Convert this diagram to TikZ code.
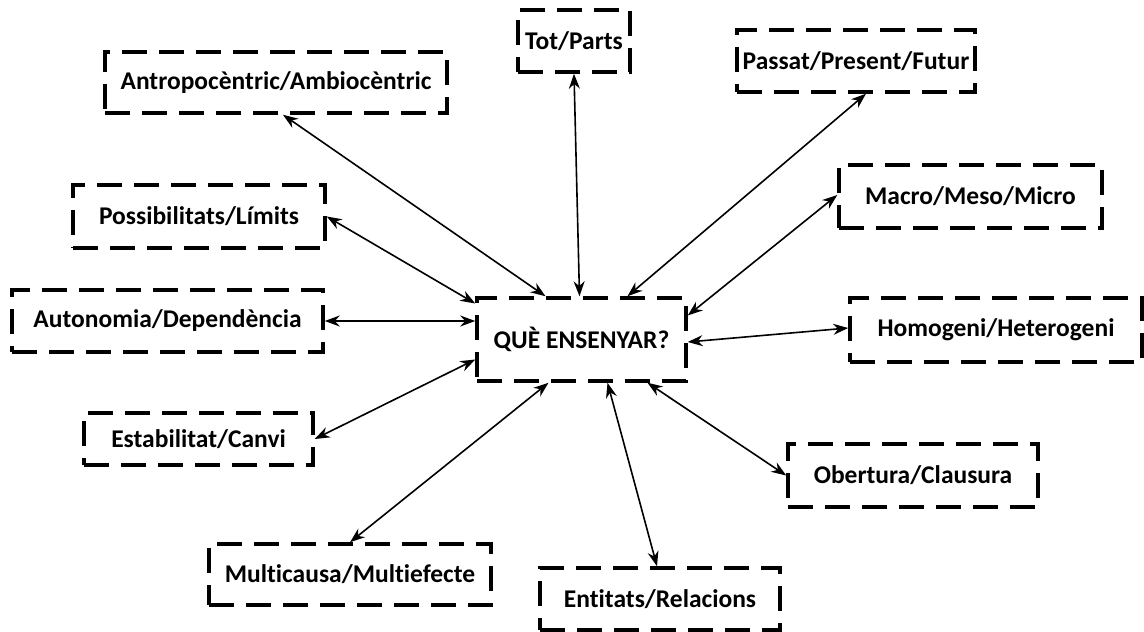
\documentclass[tikz,border=0pt]{standalone}
\usepackage{fontspec}
\setmainfont{Carlito}[Ligatures={NoCommon,NoContextual},RawFeature={-liga;-clig;-calt}]
\usetikzlibrary{arrows.meta}
\begin{document}
\begin{tikzpicture}[x=1pt,y=-1pt,
  concept/.style={draw=black, line width=3.5pt, dash pattern=on 25pt off 12pt,
    inner sep=0pt, font=\fontsize{25.5}{30}\selectfont\bfseries, align=center},
  link/.style={line width=1.6pt, {Stealth[length=15pt,width=11pt]}-{Stealth[length=15pt,width=11pt]}}]
\useasboundingbox (0,0) rectangle (1144,632);

% central question
\node[concept, minimum width=209pt, minimum height=83pt] (cen) at (581.5,339.5) {QUÈ ENSENYAR?};

% surrounding concept pairs
\node[concept, minimum width=342pt, minimum height=61pt] (antro) at (276,82.5) {Antropocèntric/Ambiocèntric};
\node[concept, minimum width=112pt, minimum height=62pt] (tot) at (574,41) {\raisebox{-4pt}{Tot/Parts}};
\node[concept, minimum width=238pt, minimum height=62pt] (passat) at (856,61) {Passat/Present/Futur};
\node[concept, minimum width=263pt, minimum height=63pt] (macro) at (970.5,196.5) {Macro/Meso/Micro};
\node[concept, minimum width=252pt, minimum height=63pt] (possib) at (199,216.5) {Possibilitats/Límits};
\node[concept, minimum width=311pt, minimum height=62pt] (autono) at (167.5,321) {Autonomia/Dependència};
\node[concept, minimum width=292pt, minimum height=64pt] (homog) at (996,330) {Homogeni/Heterogeni};
\node[concept, minimum width=229pt, minimum height=52pt] (estab) at (198.5,439) {Estabilitat/Canvi};
\node[concept, minimum width=250pt, minimum height=63pt] (obert) at (913,475.5) {Obertura/Clausura};
\node[concept, minimum width=282pt, minimum height=61pt] (multi) at (350,574.5) {Multicausa/Multiefecte};
\node[concept, minimum width=240pt, minimum height=62pt] (entit) at (660,599) {Entitats/Relacions};

% two-way links to the centre
\draw[link] ([xshift=7pt]antro.south) -- ([xshift=-36pt]cen.north);
\draw[link] (tot.south) -- ([xshift=-2pt]cen.north);
\draw[link] ([xshift=10pt]passat.south) -- ([xshift=46pt]cen.north);
\draw[link] ([yshift=1.5pt]macro.west) -- ([yshift=24pt]cen.east);
\draw[link] ([yshift=2pt]homog.west) -- ([yshift=-2.5pt]cen.east);
\draw[link] (obert.west) -- ([xshift=66pt]cen.south);
\draw[link] ([xshift=-3pt]entit.north) -- ([xshift=26pt]cen.south);
\draw[link] (multi.north) -- ([xshift=-33pt]cen.south);
\draw[link] (estab.east) -- ([yshift=-20pt]cen.west);
\draw[link] (autono.east) -- ([yshift=18.5pt]cen.west);
\draw[link] (possib.east) -- ([yshift=36pt]cen.west);
\end{tikzpicture}
\end{document}
